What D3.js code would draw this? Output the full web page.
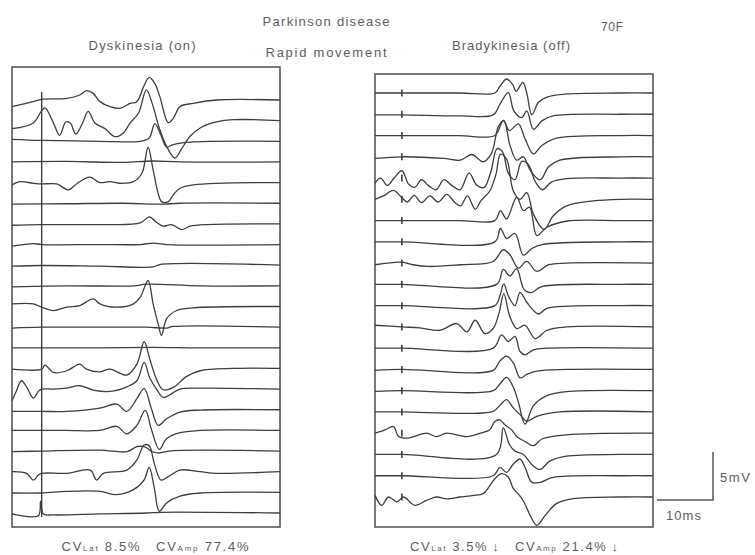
<!DOCTYPE html>
<html>
<head>
<meta charset="utf-8">
<script src="https://cdn.jsdelivr.net/npm/d3@7"></script>
<style>
  html, body { margin: 0; padding: 0; background: #ffffff; }
  svg { display: block; }
  text { font-family: "Liberation Sans", "DejaVu Sans", sans-serif; fill: #5e5e5e; }
</style>
</head>
<body>
<svg id="chart" width="755" height="555"></svg>
<script>
// Stacked evoked EMG sweeps, each sweep is a list of [time (ms), amplitude (mV)]
// relative to its own resting baseline.

const stimulusMs = { on: 5.3, off: 4.8 };

// Dyskinesia (on): 21 sweeps, top to bottom
const dyskinesiaSweeps = [
  [[0,-0.69],[3.8,-0.17],[5.3,0.07],[9.8,0.17],[12.1,0.52],[13.3,0.97],[14.5,0.69],[15.7,-0.17],[17.5,-0.69],[19.3,-0.87],[21.1,-0.35],[22.3,-0.17],[23.5,1.39],[24.5,2.36],[25.5,1.74],[26.4,0.35],[27.9,-2.36],[28.8,-1.91],[30,-0.69],[32.4,-0.35],[36.5,0],[47.9,0]],
  [[0,-0.83],[3.8,-0.24],[5.3,1.04],[5.9,1.32],[7.4,-0.24],[8.5,-1.53],[9.6,-0.14],[10.4,-0.24],[11.4,-1.39],[12.6,-0.24],[13.6,0.97],[14.8,-0.24],[16.6,-0.83],[18.4,-1.67],[19.9,-1.28],[21.1,-0.24],[22.6,0.8],[24,3.2],[25.1,1.67],[26.3,-0.76],[27.6,-2.67],[29.1,-3.89],[30.3,-2.92],[31.8,-1.63],[33.6,-0.76],[36.5,-0.14],[39.5,0.1],[47.9,0]],
  [[0,0.21],[5.3,0.1],[15.7,0],[22.9,0],[24.5,0.35],[25.5,1.84],[26.5,0.8],[27.6,-0.59],[28.8,-0.35],[32.4,-0.07],[47.9,0]],
  [[0,0],[10,0.05],[20,-0.05],[25,0.1],[30,0],[47.9,0]],
  [[0,-0.24],[1.4,0.1],[3.8,-0.07],[5.3,-0.14],[8,-0.14],[10.1,-0.76],[11.5,-0.14],[13.9,0.56],[15.7,0],[17.5,0.1],[19.3,-0.07],[21.7,0.1],[23.2,0.97],[24.3,3.68],[25.2,1.32],[26.1,-1.11],[26.7,-1.98],[27.9,-1.98],[28.8,-1.28],[30,-0.59],[32.4,-0.24],[47.9,0]],
  [[0,-0.1],[10,-0.05],[20,0],[27,-0.1],[30,0],[47.9,0]],
  [[0,-0.14],[5.3,-0.07],[15.7,-0.07],[22.9,0.1],[24.5,0.73],[25.8,0.17],[27,-0.24],[28.5,-0.07],[30.3,-0.59],[31.8,-0.24],[34.8,-0.07],[47.9,0]],
  [[0,-0.17],[3.8,0.1],[5.3,0],[15.7,0],[22.9,0],[25.2,0.15],[27.6,0],[47.9,0]],
  [[0,-0.1],[5.3,-0.03],[15.7,-0.1],[25.2,-0.17],[26.4,0.07],[47.9,0]],
  [[0,-0.1],[10,0],[21.7,0],[24,0.17],[33.6,0],[47.9,0]],
  [[0,0.28],[3.8,0.28],[5.3,-0.07],[7.4,-0.42],[9.8,-0.07],[12.1,0.1],[14.5,0.8],[15.7,0.28],[18.6,-0.07],[21.7,0.28],[22.9,0.97],[24.3,2.71],[25.2,0.28],[26.1,-1.81],[26.7,-3.02],[27.6,-1.28],[29.4,-0.42],[32.4,-0.14],[47.9,0]],
  [[0,-0.1],[5.3,0],[15.7,0],[24,0],[27.6,-0.1],[28.8,0.07],[47.9,0]],
  [[0,0],[5.3,0],[15.7,0],[25,0.05],[33.6,0],[47.9,0]],
  [[0,-0.07],[5.3,-0.07],[5.9,0.35],[7.4,-0.42],[9.8,-0.24],[12.1,0.45],[13.3,-0.07],[15.7,-0.35],[17.5,-0.07],[20.5,-0.69],[22.3,0.45],[23.6,2.78],[24.6,0.97],[25.8,-1.11],[27,-2.22],[28.8,-1.98],[31.2,-0.83],[33.6,-0.24],[39.5,0],[47.9,0]],
  [[0,-1.22],[0.8,-0.17],[1.7,0.87],[2.6,0.24],[3.8,-0.94],[4.7,-0.24],[5.3,0],[7.4,0],[9.8,0.1],[12.1,0.35],[14.5,-0.1],[17.5,-0.24],[20.5,0.24],[22.3,0.87],[23.6,2.78],[24.6,1.15],[25.8,0],[27,-0.87],[28.2,-0.59],[30,0],[33.6,0.1],[47.9,0]],
  [[0,-0.17],[5.3,-0.17],[9.8,-0.17],[15.7,0.17],[18.7,0.59],[20.5,-0.17],[22.3,1.15],[23.6,2.19],[24.9,0.1],[26.1,-1.63],[27.6,-0.94],[30,-0.24],[33.6,-0.03],[47.9,0]],
  [[0,0],[5.3,0],[9.8,0],[15.7,0],[18.7,0.42],[20.5,-0.35],[22.3,0.52],[23.8,2.08],[24.9,0.1],[26.3,-1.98],[27.6,-0.87],[30,-0.24],[33.6,0],[47.9,0]],
  [[0,-0.07],[5.3,0],[15.7,0.1],[20.5,-0.07],[22.3,0.45],[23.6,0.45],[25.2,-0.1],[26.4,-0.2],[28,0],[47.9,0]],
  [[0,0],[2.6,-0.17],[3.8,-0.87],[4.7,-0.35],[5.3,-0.17],[9.8,-0.17],[14,0.17],[15.1,-0.87],[16.3,-0.17],[20.5,0.17],[22.3,1.22],[23.6,2.78],[24.5,2.7],[25.4,0.87],[26.6,-0.87],[27.9,-0.52],[30,0.17],[33.6,0],[36.5,-0.17],[47.9,0]],
  [[0,-0.07],[5.3,-0.07],[9.8,0.1],[15.7,0.1],[18.6,-0.24],[21.7,0.28],[23.6,1.31],[24.5,2.6],[25.4,0.5],[26.3,-1.98],[27.6,-1.1],[30,-0.4],[33.6,-0.07],[47.9,0]],
  [[0,-0.1],[4.7,-0.28],[5.1,1.2],[5.6,-0.1],[7.4,-0.2],[15.7,-0.1],[24,0],[26.5,0.07],[47.9,0]]
];

// Bradykinesia (off): 20 sweeps, top to bottom
const bradykinesiaSweeps = [
  [[0,0],[4.8,0],[15.2,0],[21.4,0],[22.3,0.69],[23.5,1.46],[24.6,0.87],[25.2,0.17],[26.4,1.11],[27.1,0],[28,-2.26],[29.2,-0.97],[30.7,-0.42],[34.2,-0.1],[43.8,0],[49.6,0]],
  [[0,-0.07],[4.8,-0.07],[15.2,-0.17],[21.1,-0.07],[22.3,1.04],[23.8,2.26],[24.8,0.35],[26.2,-0.35],[27.1,0.35],[28.3,-1.56],[29.8,-0.69],[31.8,-0.17],[43.8,0],[49.6,0]],
  [[0,0],[4.8,0],[15,0],[21.4,0],[22.9,1.56],[24,0.52],[25.6,1.22],[26.8,-0.35],[28.3,-1.91],[29.8,-1.04],[32.4,-0.28],[43.8,0],[49.6,0]],
  [[0,-0.17],[4.8,0],[12.2,-0.17],[15.2,-0.35],[17.3,0.24],[19.3,-0.52],[20.8,0.35],[22,3.1],[23,3.8],[24.1,1.2],[25.3,-0.35],[26.5,0],[27.7,-1.4],[29.5,-2.4],[31,-1.04],[33,-0.35],[43.8,0],[49.6,0]],
  [[0,-0.52],[1,0],[2.2,-0.76],[3.4,0],[4.8,0.76],[6,-0.63],[7.1,-0.97],[8.3,-0.17],[9.5,-0.76],[10.9,-1.22],[12.3,-0.17],[13.7,-0.76],[15.2,-1.22],[16.8,0.52],[18.2,-0.76],[19.5,-0.97],[20.7,0.69],[21.8,3.06],[22.8,2.71],[23.8,0.52],[25,-0.17],[26.2,1.74],[27.4,1.39],[28.6,-0.35],[29.9,-1.22],[31.5,-0.42],[34.2,-0.07],[43.8,0],[49.6,0]],
  [[0,0],[1.5,0.35],[3.3,0.94],[4.8,0.17],[5.8,-0.28],[7,0.42],[8.3,-0.35],[9.8,0.35],[11.3,-0.28],[12.8,0.52],[14.3,-0.35],[15.3,-0.69],[16.5,0.35],[17.9,-1.04],[18.9,-0.17],[20.5,0.87],[21.6,2.6],[22.4,4.69],[23.5,4.17],[24.7,0.87],[25.9,0],[27.1,0.69],[28.3,-1.56],[30.2,-3.13],[31.8,-1.74],[34.2,-0.69],[39,-0.17],[43.8,0],[49.6,0]],
  [[0,0],[4.8,0],[15,0],[21.4,0],[22.4,1.04],[23.5,0.17],[25.3,2.43],[26.5,1.04],[27.6,1.39],[28.9,-1.56],[30.7,-0.69],[34.2,-0.07],[43.8,0],[49.6,0]],
  [[0,0],[4.8,0],[21.4,0],[22.4,1.39],[23.5,0.35],[25,0.87],[26.5,-1.39],[28,-0.69],[29.8,-0.28],[43.8,0],[49.6,0]],
  [[0,-0.17],[4.8,0.1],[6.8,-0.17],[9.5,-0.35],[15.2,-0.17],[21.1,0.17],[22.9,1.39],[24.1,0.87],[25.6,-0.52],[27.1,0.17],[28.9,-0.87],[31,-0.17],[34.2,0],[49.6,0]],
  [[0,0],[4.8,0],[21.7,0],[22.9,1.56],[24.1,0.87],[25.3,1.63],[26.6,-0.52],[27.8,-0.87],[29.8,-0.24],[43.8,0],[49.6,0]],
  [[0,0],[4.8,0],[21.4,0],[22.3,1.04],[23,2.26],[23.8,1.04],[25,0],[25.9,1.39],[27.1,0.35],[29.2,-0.87],[30.7,-0.28],[43.8,0],[49.6,0]],
  [[0,0.17],[4.8,0],[8,-0.1],[11.6,-0.35],[14.6,0.35],[16.4,-0.52],[17.9,0.69],[19.6,-0.69],[21.1,-0.17],[22.2,1.56],[23,3.47],[24.1,1.04],[25.3,-0.17],[26.8,0.17],[28.6,-1.22],[30.7,-0.35],[34.2,0],[49.6,0]],
  [[0,0],[4.8,0],[21.1,0],[22.6,1.39],[23.8,0.69],[25,1.22],[25.9,-0.35],[26.8,-0.69],[28.3,-0.17],[30.7,0],[49.6,0]],
  [[0,-0.1],[4.8,0],[21.1,-0.1],[22.3,0.87],[23.5,1.39],[24.7,0.69],[25.9,-0.87],[27.1,-0.52],[28.9,-0.17],[34.2,0],[49.6,0]],
  [[0,-0.07],[4.8,0],[21.1,0],[22.3,0.69],[23.5,1.39],[24.7,0.35],[25.6,-1.2],[26.8,-3.47],[28.3,-1.56],[30.7,-0.52],[34.2,-0.1],[49.6,0]],
  [[0,0],[4.8,0],[21.1,0.07],[22.3,0.69],[23.5,1.28],[24.7,0.42],[25.9,-0.28],[27.1,-0.97],[28.9,-0.45],[33,0],[49.6,0]],
  [[0,0],[1.8,0.35],[3.3,0.69],[4.2,-0.35],[5.7,-0.52],[9.2,0],[11,-0.35],[12.8,0],[16.4,-0.35],[18.8,0],[20.5,0.35],[21.4,1.22],[22.3,1.39],[23.2,0.87],[24.4,0.35],[25.3,-0.35],[26.8,-0.87],[28.3,-1.3],[29.8,-0.6],[34.2,-0.17],[49.6,0]],
  [[0,0],[4.8,0],[21.7,0],[22.9,2.78],[24,1.04],[25,0.35],[26.5,0],[28,-1.04],[29.5,-1.56],[31.2,-0.69],[34.2,-0.17],[43.8,0],[49.6,0]],
  [[0,0],[4.8,0],[21.1,0],[22.3,0.87],[23.5,0.35],[24.7,1.22],[25.9,1.74],[26.8,0.87],[28,-0.69],[29.5,-0.69],[31.8,-0.17],[43.8,0],[49.6,0]],
  [[0,0.17],[1.2,-0.87],[2.4,0],[3.9,-0.5],[5.1,0],[7.1,-0.87],[9.2,-0.35],[11,0],[12.8,-0.2],[15.2,0],[17.6,0.17],[19.3,0.35],[21.4,1.91],[22.6,2.43],[23.8,2.08],[24.7,0.87],[25.8,0.17],[26.6,-0.52],[27.7,-1.91],[28.9,-2.95],[30.4,-1.91],[32.4,-0.69],[35.4,-0.17],[43.8,0],[49.6,0]]
];

// Calibration bar
const calibration = { ms: 10, mV: 5 };

// Captions
const titleLines = ["Parkinson disease", "Rapid movement"];
const panelTitles = ["Dyskinesia (on)", "Bradykinesia (off)"];
const subjectLabel = "70F";
const cvLeft = { lat: "8.5%", amp: "77.4%", arrow: "" };
const cvRight = { lat: "3.5%", amp: "21.4%", arrow: "\u2193" };

const svg = d3.select("#chart");
const ink = "#3e3e3e";

const pxPerMs = 5.6;
const pxPerMv = 9.6;

const panels = [
  { sweeps: dyskinesiaSweeps, left: 12, right: 280, top: 67, bottom: 527, firstRow: 100, lastRow: 513, stim: stimulusMs.on, continuousStim: true },
  { sweeps: bradykinesiaSweeps, left: 375, right: 653, top: 74, bottom: 527, firstRow: 93, lastRow: 497, stim: stimulusMs.off, continuousStim: false }
];

const amp = d3.scaleLinear().domain([0, 1]).range([0, -pxPerMv]);

panels.forEach(p => {
  const x = d3.scaleLinear().domain([0, (p.right - p.left) / pxPerMs]).range([p.left, p.right]);
  const row = d3.scalePoint().domain(d3.range(p.sweeps.length)).range([p.firstRow, p.lastRow]);
  p.x = x;

  const g = svg.append("g");
  g.append("rect")
    .attr("x", p.left).attr("y", p.top)
    .attr("width", p.right - p.left).attr("height", p.bottom - p.top)
    .attr("fill", "none").attr("stroke", "#585858").attr("stroke-width", 1.6);

  const line = d3.line()
    .x(d => x(d[0]))
    .curve(d3.curveCatmullRom.alpha(0.5));

  g.selectAll("path.sweep")
    .data(p.sweeps)
    .join("path")
    .attr("class", "sweep")
    .attr("fill", "none")
    .attr("stroke", ink)
    .attr("stroke-width", 1.3)
    .attr("stroke-linejoin", "round")
    .attr("d", (s, i) => line.y(d => row(i) + amp(d[1]))(s));

  const sx = x(p.stim);
  if (p.continuousStim) {
    g.append("line")
      .attr("x1", sx).attr("x2", sx)
      .attr("y1", row(0) - 8).attr("y2", row(p.sweeps.length - 1) + 4)
      .attr("stroke", ink).attr("stroke-width", 1.4);
  } else {
    g.selectAll("line.stim")
      .data(p.sweeps)
      .join("line")
      .attr("class", "stim")
      .attr("x1", sx).attr("x2", sx)
      .attr("y1", (s, i) => row(i) - 3.5)
      .attr("y2", (s, i) => row(i) + 3.5)
      .attr("stroke", ink).attr("stroke-width", 1.6);
  }
});

// Calibration bar: 10 ms horizontal, 5 mV vertical
const xr = panels[1].x;
const barX0 = 657, barY0 = 500;
const barLen = xr(calibration.ms) - xr(0);
const barHt = -amp(calibration.mV);
svg.append("path")
  .attr("d", `M${barX0},${barY0}H${barX0 + barLen}V${barY0 - barHt}`)
  .attr("fill", "none").attr("stroke", "#585858").attr("stroke-width", 1.5);
svg.append("text").attr("x", barX0 + barLen + 7).attr("y", barY0 - barHt / 2 + 6)
  .attr("font-size", 13).attr("textLength", 30).attr("lengthAdjust", "spacing").text(calibration.mV + "mV");
svg.append("text").attr("x", 666).attr("y", 520)
  .attr("font-size", 13).attr("textLength", 35).attr("lengthAdjust", "spacing").text(calibration.ms + "ms");

// Captions with their measured widths
function caption(str, x, y, width, size) {
  svg.append("text").attr("x", x - width / 2).attr("y", y)
    .attr("font-size", size)
    .attr("textLength", width).attr("lengthAdjust", "spacing")
    .text(str);
}
caption(titleLines[0], 326, 26, 127, 13);
caption(titleLines[1], 326, 57, 121, 13);
caption(panelTitles[0], 142, 50, 107, 13);
caption(panelTitles[1], 511, 50, 118, 13);
caption(subjectLabel, 612, 31, 22, 12);

function cvText(cx, width, cv) {
  const t = svg.append("text").attr("x", cx - width / 2).attr("y", 551).attr("font-size", 13)
    .attr("textLength", width).attr("lengthAdjust", "spacing");
  t.append("tspan").text("CV");
  t.append("tspan").attr("font-size", 8).text("Lat");
  t.append("tspan").text(" " + cv.lat + (cv.arrow ? "\u2009" + cv.arrow : "") + "\u2003CV");
  t.append("tspan").attr("font-size", 8).text("Amp");
  t.append("tspan").text(" " + cv.amp + (cv.arrow ? "\u2009" + cv.arrow : ""));
}
cvText(155, 187, cvLeft);
cvText(514, 208, cvRight);
</script>
</body>
</html>
